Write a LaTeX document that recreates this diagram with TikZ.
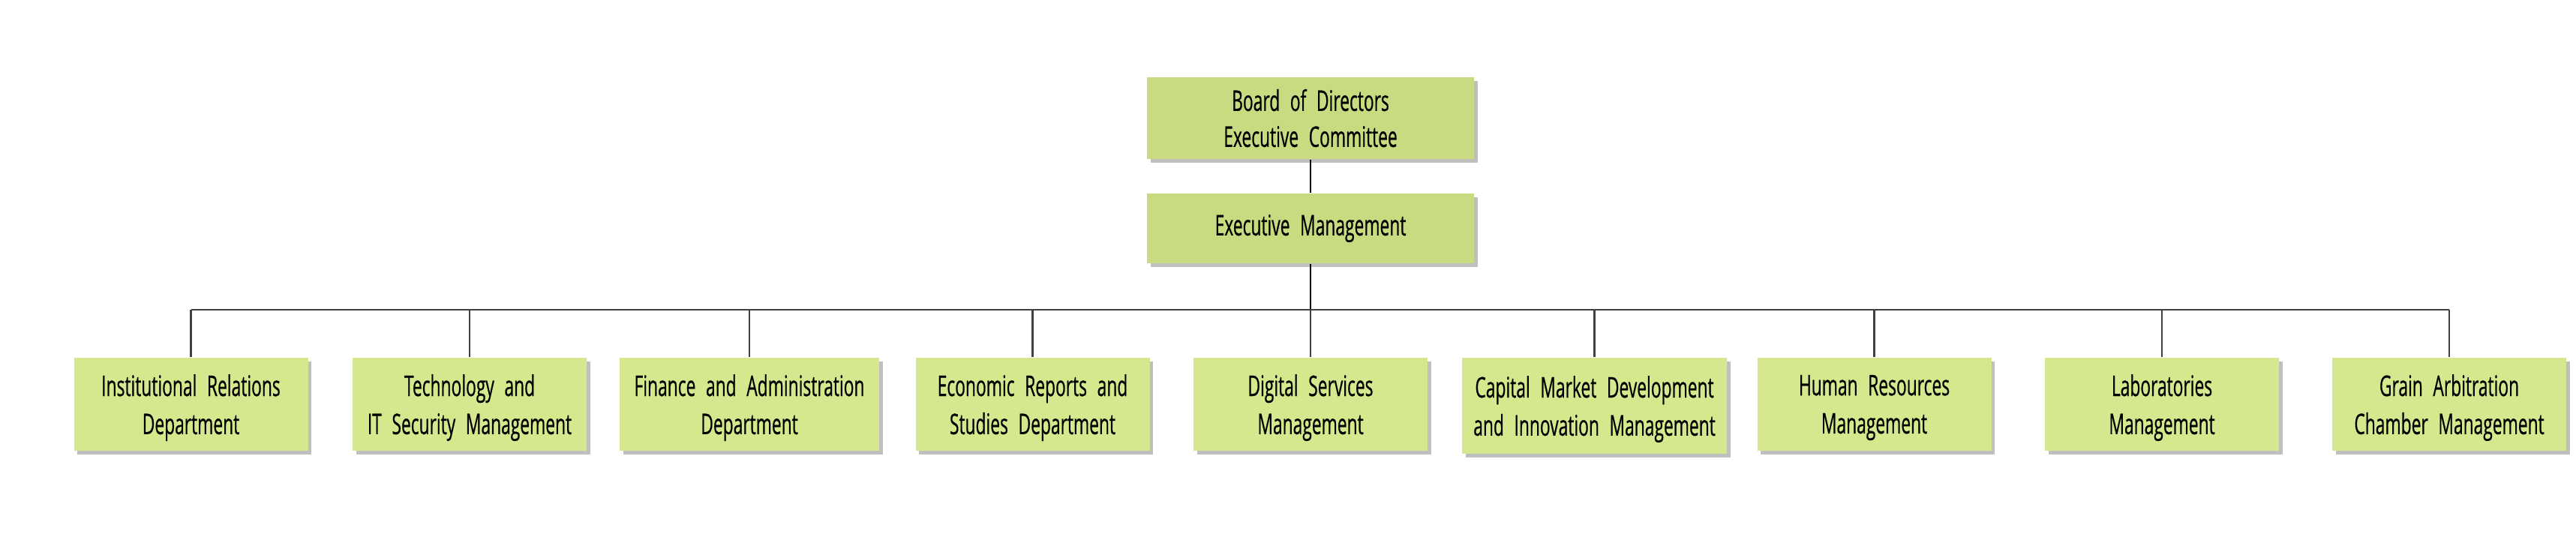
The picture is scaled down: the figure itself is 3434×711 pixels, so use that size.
\documentclass[tikz,border=0pt]{standalone}
\usepackage{fontspec}
\setmainfont[FakeStretch=0.6, WordSpace=2.3, FakeBold=0.5]{Open Sans}
\usetikzlibrary{shadows}
\definecolor{topgreen}{HTML}{C9DB80}
\definecolor{botgreen}{HTML}{D5E88D}
\definecolor{linegray}{HTML}{404040}
\begin{document}
\begin{tikzpicture}[x=0.25pt,y=-0.25pt,
  box/.style={fill=#1, draw=none, inner sep=0pt, align=center,
    drop shadow={shadow xshift=1.2pt, shadow yshift=-1.2pt, fill=black, opacity=0.25}},
  topbox/.style={box=topgreen, minimum width=109pt, font=\fontsize{9.5}{12}\selectfont},
  unitbox/.style={box=botgreen, minimum width=78pt, minimum height=31pt, text depth=0pt, font=\fontsize{9.5}{12.7}\selectfont},
  toplink/.style={draw=black, line width=0.45pt},
  buslink/.style={draw=linegray, line width=0.7pt}]
\useasboundingbox (0,0) rectangle (3434,711);
\node[topbox, minimum height=27.25pt] (board) at (1747,157.5) {Board of Directors\\Executive Committee};
\node[topbox, minimum height=23.25pt] (exec) at (1747,304.5) {Executive Management};
\coordinate (bus) at (1747,413);
\node[unitbox] (u1) at (254.5,539) {Institutional Relations\\Department};
\node[unitbox] (u2) at (626,539) {Technology and\\IT Security Management};
\node[unitbox, minimum width=86.5pt] (u3) at (999,539) {Finance and Administration\\Department};
\node[unitbox] (u4) at (1376.5,539) {Economic Reports and\\Studies Department};
\node[unitbox] (u5) at (1747,539) {Digital Services\\Management};
\node[unitbox, minimum width=88.25pt, minimum height=32pt] (u6) at (2125.5,541) {Capital Market Development\\and Innovation Management};
\node[unitbox] (u7) at (2498.5,539) {Human Resources\\Management};
\node[unitbox] (u8) at (2882,539) {Laboratories\\Management};
\node[unitbox] (u9) at (3265,539) {Grain Arbitration\\Chamber Management};
\draw[toplink] (board.south) -- (exec.north);
\draw[toplink] (exec.south) -- (bus);
\draw[buslink] (u1.north |- bus) -- (u9.north |- bus);
\foreach \u in {u1,u2,u3,u4,u5,u6,u7,u8,u9}
  \draw[buslink] (\u.north |- bus) -- (\u.north);
\end{tikzpicture}
\end{document}
